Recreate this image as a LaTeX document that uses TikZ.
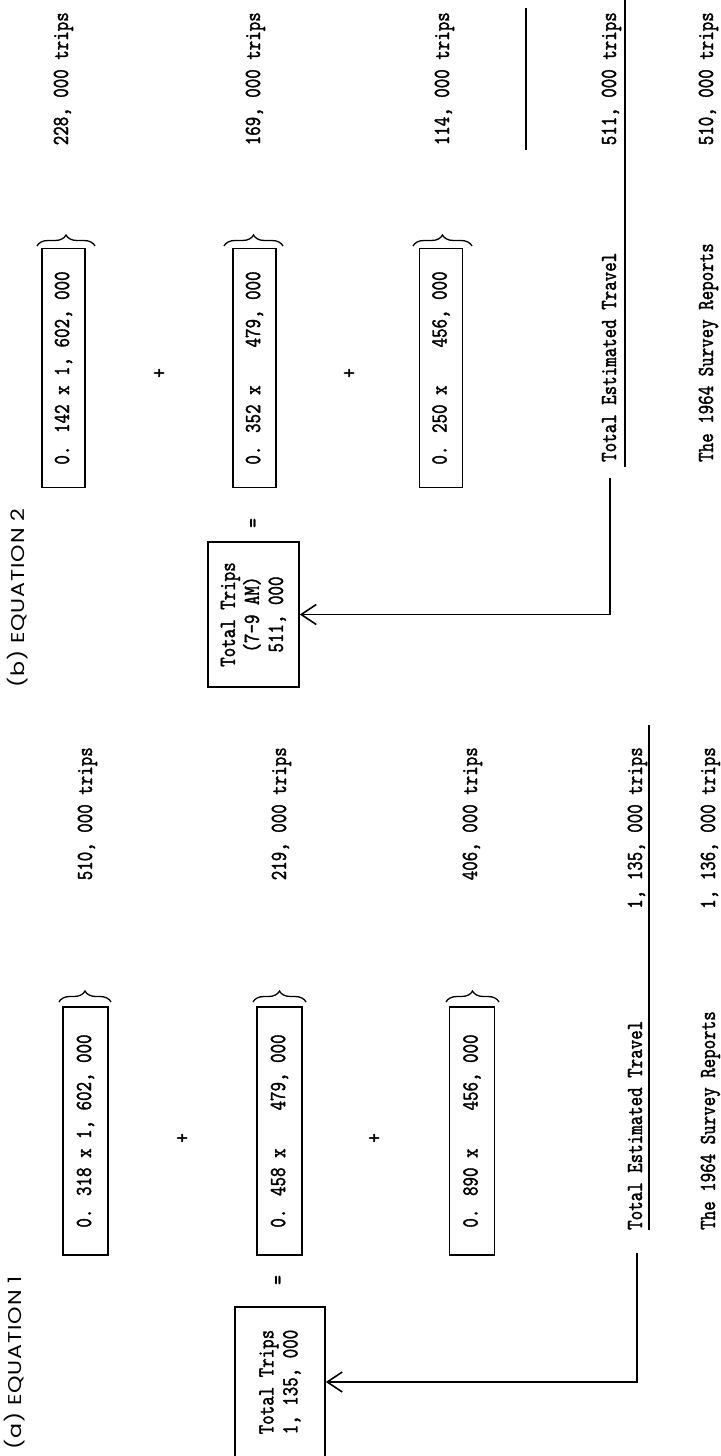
\documentclass[tikz,border=0pt]{standalone}
\usepackage{fontspec}
\newfontfamily\hd[FakeStretch=1.2,LetterSpace=5]{Poppins}
\newfontfamily\tw[Extension=.otf,FakeStretch=0.787,FakeBold=1.5]{lmmono10-regular}
\newcommand\twf{\tw\fontsize{23pt}{24pt}\selectfont}
\usetikzlibrary{arrows.meta,decorations.pathreplacing}
\tikzset{
  twfont/.style={font=\twf},
  lbl/.style={twfont, inner sep=0pt, rotate=90},
  head/.style={font={\hd\fontsize{18.5pt}{21pt}\selectfont}, inner sep=0pt, rotate=90},
  sym/.style={twfont, inner sep=0pt, rotate=90},
  termbox/.style={twfont, draw, line width=1.6pt, rotate=90, inner sep=0pt},
  totbox/.style={twfont, draw, line width=1.6pt, rotate=90, inner sep=0pt, align=center},
  brc/.style={decorate, decoration={brace, amplitude=11pt}, line width=1.3pt},
  rule/.style={line width=1.6pt},
  arr/.style={line width=1.6pt, -{Straight Barb[length=15pt,width=20pt,line width=1.6pt]}}
}
\begin{document}
\begin{tikzpicture}[x=1pt,y=-1pt]
\useasboundingbox (0,0) rectangle (720,1456);
\clip (0,0) rectangle (720,1456);

% ===================== (a) EQUATION 1 =====================
\node[head, anchor=base west] (ha) at (21,1450) {(a) EQUATION 1};

\node[termbox, minimum width=248pt, minimum height=45pt] (a1) at (85.5,1131) {0. 318 x 1, 602, 000};
\node[termbox, minimum width=248pt, minimum height=45pt] (a2) at (279.5,1131) {0. 458 x\ \ \ \ 479, 000};
\node[termbox, minimum width=248pt, minimum height=45pt] (a3) at (472,1131) {0. 890 x\ \ \ \ 456, 000};

\draw[brc] (59,1002) -- (111,1002);
\draw[brc] (253,1002) -- (306,1002);
\draw[brc] (446,1002) -- (499,1002);

\node[sym] (ap1) at (183,1138) {+};
\node[sym] (ap2) at (375,1138) {+};
\node[sym] (aeq) at (280,1280) {=};

\node[lbl, anchor=base east] (ar1) at (92,747) {510, 000 trips};
\node[lbl, anchor=base east] (ar2) at (286,747) {219, 000 trips};
\node[lbl, anchor=base east] (ar3) at (477,747) {406, 000 trips};

\node[lbl, anchor=base west] (ate) at (642,1230) {Total Estimated Travel};
\node[lbl, anchor=base east] (atv) at (642,747) {1, 135, 000 trips};
\node[lbl, anchor=base west] (asr) at (715,1230) {The 1964 Survey Reports};
\node[lbl, anchor=base east] (asv) at (715,747) {1, 136, 000 trips};

\coordinate (aul1) at (649,725);
\coordinate (aul2) at (649,1230);
\draw[rule] (aul1) -- (aul2);

\node[totbox, minimum width=150pt, minimum height=90pt] (at) at (280,1382) {Total Trips\\1, 135, 000};

\coordinate (ac) at (637,1253);
\draw[arr] (ac) |- (at.south);

% ===================== (b) EQUATION 2 =====================
\node[head, anchor=base west] (hb) at (24,688) {(b) EQUATION 2};

\node[termbox, minimum width=239pt, minimum height=43pt] (b1) at (63.5,368) {0. 142 x 1, 602, 000};
\node[termbox, minimum width=239pt, minimum height=43pt] (b2) at (254.5,368) {0. 352 x\ \ \ \ 479, 000};
\node[termbox, minimum width=239pt, minimum height=43pt] (b3) at (441,368) {0. 250 x\ \ \ \ 456, 000};

\draw[brc] (37,246) -- (95,246);
\draw[brc] (224,246) -- (283,246);
\draw[brc] (413,246) -- (472,246);

\node[sym] (bp1) at (160,373) {+};
\node[sym] (bp2) at (350,373) {+};
\node[sym] (beq) at (255,523) {=};

\node[lbl, anchor=base east] (br1) at (68,12) {228, 000 trips};
\node[lbl, anchor=base east] (br2) at (260,12) {169, 000 trips};
\node[lbl, anchor=base east] (br3) at (449,12) {114, 000 trips};

\coordinate (bs1) at (526,8);
\coordinate (bs2) at (526,150);
\draw[rule] (bs1) -- (bs2);

\node[lbl, anchor=base west] (bte) at (616,462) {Total Estimated Travel};
\node[lbl, anchor=base east] (btv) at (616,12) {511, 000 trips};
\node[lbl, anchor=base west] (bsr) at (713,462) {The 1964 Survey Reports};
\node[lbl, anchor=base east] (bsv) at (713,12) {510, 000 trips};

\coordinate (bul1) at (625,-2);
\coordinate (bul2) at (625,467);
\draw[rule] (bul1) -- (bul2);

\node[totbox, minimum width=145pt, minimum height=91pt] (bt) at (253.5,614.5) {Total Trips\\(7-9 AM)\\511, 000};

\coordinate (bc) at (610,478);
\draw[arr] (bc) |- (bt.south);
\end{tikzpicture}
\end{document}
